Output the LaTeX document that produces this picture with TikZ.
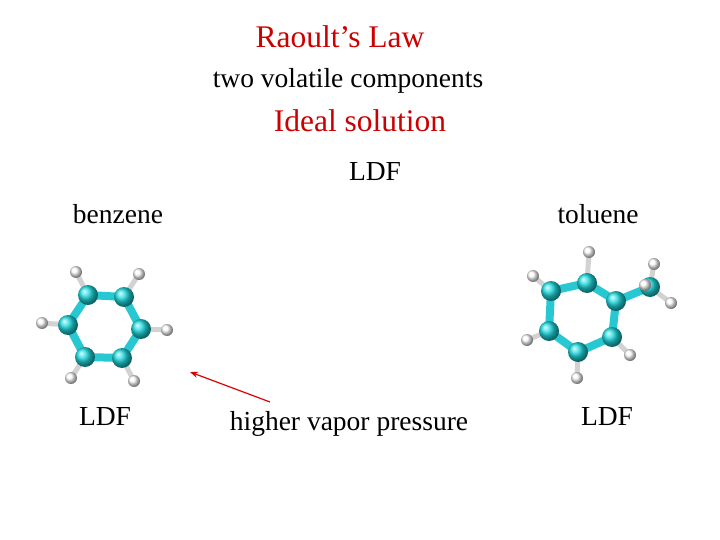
\documentclass[tikz,border=0pt]{standalone}
\usepackage{fontspec}
\setmainfont{Liberation Serif}
\usetikzlibrary{arrows.meta}
\begin{document}
\begin{tikzpicture}[x=1pt,y=-1pt,
  txt/.style={font=\fontsize{27.5}{32}\selectfont, inner sep=0pt},
  red txt/.style={font=\fontsize{31.5}{36}\selectfont, inner sep=0pt, text={rgb,255:red,204;green,0;blue,0}},
  bond/.style={line width=8pt, color={rgb,255:red,40;green,200;blue,210}},
  hbond/.style={line width=5pt, color=gray!35},
  cat/.style={circle, minimum size=20pt, inner sep=0pt, ball color={rgb,255:red,30;green,220;blue,225}},
  hat/.style={circle, minimum size=12pt, inner sep=0pt, ball color=white}]
\useasboundingbox (0,0) rectangle (720,540);
\node[red txt] (t1) at (340,37) {Raoult’s Law};
\node[txt] (t2) at (348,81) {two volatile components};
\node[red txt] (t3) at (360,121) {Ideal solution};
\node[txt] (t4) at (375,172) {LDF};
\node[txt] (b) at (118,214) {benzene};
\node[txt] (t) at (598,214) {toluene};
\node[txt] (l1) at (105,417) {LDF};
\node[txt] (hv) at (349,424) {higher vapor pressure};
\node[txt] (l2) at (607,417) {LDF};
\coordinate (as) at (270,402);
\coordinate (ae) at (190,372);
\draw[-{Stealth[length=8pt,width=6pt]}, line width=1.2pt, red!85!black] (as) -- (ae);
% benzene
\foreach \n/\x/\y in {c1/88/295,c2/124/297,c3/141/329,c4/122/358,c5/85/357,c6/68/325}
  \coordinate (\n) at (\x,\y);
\foreach \n/\x/\y in {h1/76/272,h2/139/274,h3/167/330,h4/134/381,h5/71/378,h6/42/323}
  \coordinate (\n) at (\x,\y);
\foreach \i in {1,...,6} \draw[hbond] (c\i) -- (h\i);
\draw[bond] (c1)--(c2)--(c3)--(c4)--(c5)--(c6)--cycle;
\foreach \i in {1,...,6} {\node[hat] (H\i) at (h\i) {}; \node[cat] (C\i) at (c\i) {};}
% toluene
\foreach \n/\x/\y in {d1/551/291,d2/587/283,d3/616/301,d4/612/337,d5/578/352,d6/549/331,d7/650/287}
  \coordinate (\n) at (\x,\y);
\foreach \n/\x/\y in {g1/533/276,g2/589/252,g4/630/355,g5/577/378,g6/527/340,g7/654/264,g8/671/303,g9/645/285}
  \coordinate (\n) at (\x,\y);
\foreach \a/\b in {d1/g1,d2/g2,d4/g4,d5/g5,d6/g6,d7/g7,d7/g8} \draw[hbond] (\a) -- (\b);
\draw[bond] (d1)--(d2)--(d3)--(d4)--(d5)--(d6)--cycle;
\draw[bond] (d3)--(d7);
\foreach \i in {1,2,4,5,6,7,8} \node[hat] (G\i) at (g\i) {};
\foreach \i in {1,...,7} \node[cat] (D\i) at (d\i) {};
\node[hat] (G9) at (g9) {};
\end{tikzpicture}
\end{document}
